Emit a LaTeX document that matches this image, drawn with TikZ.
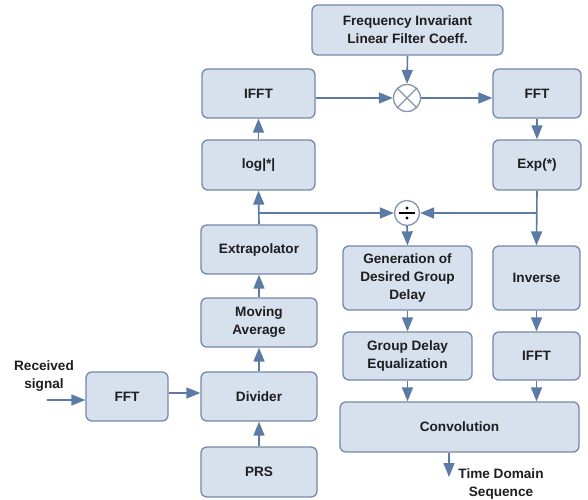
\documentclass[tikz,border=0pt]{standalone}
\usepackage{fontspec}
\setmainfont{Liberation Sans}
\usetikzlibrary{arrows.meta,calc}
\definecolor{boxfill}{HTML}{D7E0ED}
\definecolor{boxline}{HTML}{7588A8}
\definecolor{arrowc}{HTML}{5B7AA6}
\definecolor{circline}{HTML}{8494AC}
\definecolor{txt}{HTML}{1E1E1E}
\begin{document}
\begin{tikzpicture}[x=1pt,y=-1pt,
  blk/.style={draw=boxline, fill=boxfill, line width=1.3pt, rounded corners=6pt,
    inner sep=0pt, align=center, text=txt,
    font=\fontsize{13.6}{18}\selectfont\bfseries},
  opc/.style={circle, draw=circline, fill=white, line width=1.3pt, minimum size=27pt, inner sep=0pt},
  con/.style={draw=arrowc, line width=1.6pt, -{Triangle[length=14pt,width=11pt]}},
  lbl/.style={align=center, text=txt, font=\fontsize{13.6}{18}\selectfont\bfseries}]
\useasboundingbox (0,0) rectangle (588,499);

% boxes
\node[blk, minimum width=191pt, minimum height=50pt] (coeff) at (407.5,30) {Frequency Invariant\\Linear Filter Coeff.};
\node[blk, minimum width=113pt, minimum height=49pt] (ifftL) at (258.5,93.5) {IFFT};
\node[blk, minimum width=113pt, minimum height=50pt] (logb) at (258.5,165) {log|*|};
\node[blk, minimum width=116pt, minimum height=49pt] (extra) at (259,249.5) {Extrapolator};
\node[blk, minimum width=116pt, minimum height=49pt] (mavg) at (259,322.5) {Moving\\Average};
\node[blk, minimum width=116pt, minimum height=49pt] (divb) at (259,396.5) {Divider};
\node[blk, minimum width=116pt, minimum height=50pt] (prs) at (259,472) {PRS};
\node[blk, minimum width=82pt, minimum height=49pt] (fftL) at (127,396.5) {FFT};
\node[blk, minimum width=88pt, minimum height=49pt] (fftR) at (537,93.5) {FFT};
\node[blk, minimum width=88pt, minimum height=50pt] (expb) at (537,165) {Exp(*)};
\node[blk, minimum width=129pt, minimum height=64pt] (gen) at (407.5,278) {Generation of\\Desired Group\\Delay};
\node[blk, minimum width=87pt, minimum height=64pt] (inv) at (536.5,278) {Inverse};
\node[blk, minimum width=129pt, minimum height=48pt] (gde) at (407.5,356) {Group Delay\\Equalization};
\node[blk, minimum width=87pt, minimum height=48pt] (ifftR) at (536.5,356) {IFFT};
\node[blk, minimum width=239pt, minimum height=50pt] (conv) at (459.5,427) {Convolution};

% operators
\node[opc] (mult) at (407,98) {};
\draw[circline, line width=1.3pt] (mult.north east) -- (mult.south west) (mult.north west) -- (mult.south east);
\node[opc, minimum size=25pt] (divc) at (407,213) {};
\draw[black, line width=1.4pt] ($(divc)+(-8,0)$) -- ($(divc)+(8,0)$);
\fill[black] ($(divc)+(0,-5)$) circle (1.6pt) ($(divc)+(0,5)$) circle (1.6pt);

% labels
\node[lbl] (rx) at (44,376) {Received\\signal};
\node[lbl] (tds) at (501,484) {Time Domain\\Sequence};
\coordinate (rxstart) at (47,400);
\coordinate (outend) at (449,477);
\coordinate (jL) at (logb.south |- divc);
\coordinate (jR) at (expb.south |- divc);

% connectors
\draw[con] (rxstart) -- (fftL.west |- rxstart);
\draw[con] ([yshift=3.5pt]fftL.east) -- ([yshift=3.5pt]divb.west);
\draw[con] (prs.north) -- (divb.south);
\draw[con] (divb.north) -- (mavg.south);
\draw[con] (mavg.north) -- (extra.south);
\draw[con] (extra.north) -- (logb.south);
\draw[con] (logb.north) -- (ifftL.south);
\draw[con] (ifftL.east |- mult) -- (mult.west);
\draw[con] (coeff.south) -- (mult.north);
\draw[con] (mult.east) -- (fftR.west |- mult);
\draw[con] (fftR.south) -- (expb.north);
\draw[con] (expb.south) -- (inv.north);
\draw[con] (jL) -- (divc.west);
\draw[con] (jR) -- (divc.east);
\draw[con] (divc.south) -- (gen.north);
\draw[con] (gen.south) -- (gde.north);
\draw[con] (inv.south) -- (ifftR.north);
\draw[con] (gde.south) -- (gde.south |- conv.north);
\draw[con] (ifftR.south) -- (ifftR.south |- conv.north);
\draw[con] (conv.south -| outend) -- (outend);
\end{tikzpicture}
\end{document}
